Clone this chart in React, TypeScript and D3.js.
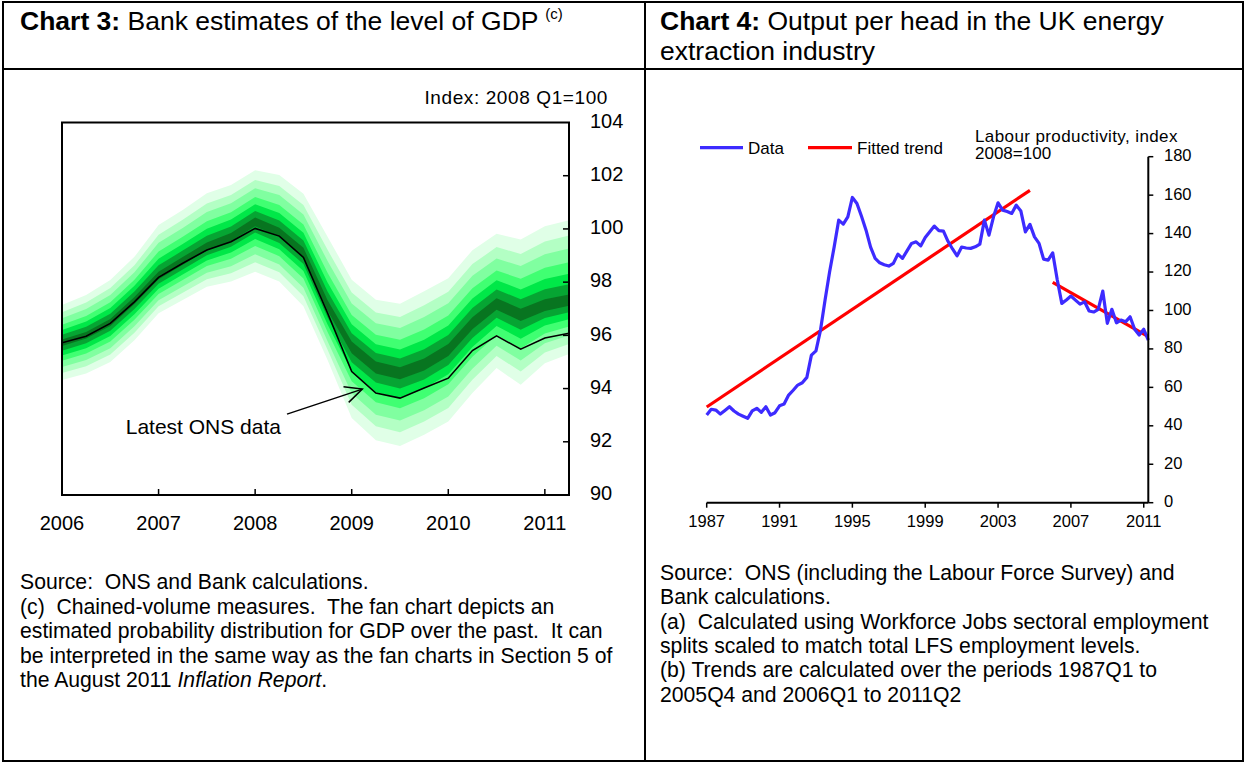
import React from 'react';
import * as d3 from 'd3';

const FONT = "'Liberation Sans', Arial, Helvetica, sans-serif";

// ---------- Chart 3 data (quarterly, 2006 Q1 – 2011 Q2) ----------
const gdpQuarters = [
  '2006 Q1', '2006 Q2', '2006 Q3', '2006 Q4',
  '2007 Q1', '2007 Q2', '2007 Q3', '2007 Q4',
  '2008 Q1', '2008 Q2', '2008 Q3', '2008 Q4',
  '2009 Q1', '2009 Q2', '2009 Q3', '2009 Q4',
  '2010 Q1', '2010 Q2', '2010 Q3', '2010 Q4',
  '2011 Q1', '2011 Q2',
];
const onsLatest = [95.72, 95.97, 96.45, 97.26, 98.18, 98.71, 99.21, 99.52, 100.02, 99.73, 98.93, 96.84,
  94.64, 93.83, 93.64, 94.02, 94.39, 95.43, 95.98, 95.48, 95.9, 96.08];
const fanMode = [95.72, 96.0, 96.48, 97.3, 98.23, 98.78, 99.32, 99.68, 100.26, 99.86, 99.1, 97.1,
  95.55, 94.8, 94.58, 94.9, 95.45, 96.45, 97.17, 96.76, 97.1, 97.28];
const fanTop = [97.14, 97.52, 98.08, 98.95, 100.15, 100.71, 101.34, 101.65, 102.21, 102.03, 101.32, 99.71,
  98.09, 97.34, 97.19, 97.66, 98.15, 99.2, 99.82, 99.6, 100.1, 100.33];
const fanBottom = [94.32, 94.57, 95.0, 95.82, 96.83, 97.33, 97.83, 98.02, 98.39, 98.02, 97.09, 95.07,
  92.89, 92.06, 91.84, 92.26, 92.76, 93.83, 94.77, 94.14, 94.95, 95.3];
const fanBandFractions = [1.0, 0.81, 0.65, 0.48, 0.34, 0.21, 0.085];
const fanColors = ['#e0ffe7', '#b3ffc4', '#80ffa0', '#40ff72', '#00e848', '#06a533', '#087520'];
const gdpYearTicks = [2006, 2007, 2008, 2009, 2010, 2011];
const gdpValueTicks = [90, 92, 94, 96, 98, 100, 102, 104];

// ---------- Chart 4 data (quarterly, 1987 Q1 – 2011 Q2) ----------
const prodStartYear = 1987;
const prodData = [
  45.6, 48.6, 48.2, 46.1, 48.0, 49.9, 47.7, 46.1, 45.0, 43.9,
  47.8, 49.1, 47.0, 49.9, 45.6, 46.8, 50.4, 51.3, 56.0, 58.5,
  61.2, 62.4, 65.2, 76.8, 79.0, 89.8, 105.4, 120.1, 133.1, 147.0,
  144.9, 148.7, 158.8, 155.7, 149.0, 141.8, 133.0, 127.1, 124.8, 123.8,
  123.1, 124.5, 129.3, 127.1, 131.0, 134.9, 135.7, 133.6, 138.0, 141.0,
  143.9, 141.5, 141.3, 136.0, 132.0, 128.4, 133.0, 132.5, 132.3, 133.1,
  134.5, 147.0, 139.2, 148.7, 156.0, 152.2, 151.5, 150.5, 154.8, 151.8,
  140.9, 144.8, 138.3, 134.9, 126.7, 126.2, 130.0, 116.0, 103.7, 105.5,
  107.5, 105.4, 103.3, 104.5, 99.7, 99.2, 100.6, 110.1, 93.3, 100.6,
  93.6, 95.0, 94.1, 96.7, 90.2, 87.2, 90.2, 84.6,
];
const trendEarly = [{ q: 0, v: 49.8 }, { q: 71, v: 162.5 }];
const trendLate = [{ q: 76, v: 114.6 }, { q: 97, v: 86.4 }];
const prodYearTicks = [1987, 1991, 1995, 1999, 2003, 2007, 2011];
const prodValueTicks = [0, 20, 40, 60, 80, 100, 120, 140, 160, 180];

// annotation (data coordinates of chart 3)
const annotation = { text: 'Latest ONS data', textAt: [2006.66, 92.3], from: [2008.33, 93.04], to: [2009.11, 93.98] };

const quarterToYear = (label: string) => {
  const [y, q] = label.split(' Q');
  return +y + (+q - 1) / 4;
};

const PRE = { whiteSpace: 'pre' as const };

function Chart3() {
  const x = d3.scaleLinear().domain([2006, 2011.25]).range([62, 569]);
  const y = d3.scaleLinear().domain([90, 104]).range([495, 122.5]);
  const t = gdpQuarters.map(quarterToYear);

  const bands = fanBandFractions.map((f, k) => {
    const area = d3.area<number>()
      .x((_, i) => x(t[i]))
      .y0((_, i) => y(fanMode[i] - f * (fanMode[i] - fanBottom[i])))
      .y1((_, i) => y(fanMode[i] + f * (fanTop[i] - fanMode[i])));
    return <path key={k} d={area(fanMode) || ''} fill={fanColors[k]} stroke="none" />;
  });

  const line = d3.line<number>().x((_, i) => x(t[i])).y(d => y(d));

  const [ax, ay] = [x(annotation.to[0]), y(annotation.to[1])];
  const [bx, by] = [x(annotation.from[0]), y(annotation.from[1])];
  const ang = Math.atan2(by - ay, bx - ax);
  const headLen = 19;
  const spread = 0.45;
  const h1 = [ax + headLen * Math.cos(ang + spread), ay + headLen * Math.sin(ang + spread)];
  const h2 = [ax + headLen * Math.cos(ang - spread), ay + headLen * Math.sin(ang - spread)];

  const [x0, x1] = x.range();
  const [yb, yt] = y.range();

  return (
    <g fontFamily={FONT}>
      <defs>
        <clipPath id="c3clip">
          <rect x={x0} y={yt} width={x1 - x0} height={yb - yt} />
        </clipPath>
      </defs>
      <g clipPath="url(#c3clip)">
        {bands}
        <path d={line(onsLatest) || ''} fill="none" stroke="#000" strokeWidth={1.6} />
      </g>
      <rect x={x0} y={yt} width={x1 - x0} height={yb - yt} fill="none" stroke="#000" strokeWidth={2} />
      {gdpYearTicks.map(v => (
        <g key={v}>
          {v > 2006 && <line x1={x(v)} x2={x(v)} y1={yb} y2={yb - 6} stroke="#000" strokeWidth={1.5} />}
          <text x={x(v)} y={530} fontSize={20} textAnchor="middle">{v}</text>
        </g>
      ))}
      {gdpValueTicks.map(v => (
        <g key={v}>
          {v > 90 && v < 104 && <line x1={x1} x2={x1 - 6} y1={y(v)} y2={y(v)} stroke="#000" strokeWidth={1.5} />}
          <text x={590} y={y(v)} fontSize={20} dominantBaseline="middle">{v}</text>
        </g>
      ))}
      <text x={608} y={104} fontSize={19} letterSpacing={0.6} textAnchor="end">Index: 2008 Q1=100</text>
      <line x1={bx} y1={by} x2={ax} y2={ay} stroke="#000" strokeWidth={1.5} />
      <polyline points={`${h1[0]},${h1[1]} ${ax},${ay} ${h2[0]},${h2[1]}`} fill="none" stroke="#000" strokeWidth={1.5} />
      <text x={x(annotation.textAt[0])} y={y(annotation.textAt[1])} fontSize={21}>{annotation.text}</text>
    </g>
  );
}

function Chart4() {
  const x = d3.scaleLinear().domain([1987, 2011.25]).range([706.7, 1148.3]);
  const y = d3.scaleLinear().domain([0, 180]).range([502.7, 156.7]);
  const qx = (q: number) => x(prodStartYear + q / 4);
  const dataLine = d3.line<number>().x((_, i) => qx(i)).y(d => y(d));
  const trendLine = d3.line<{ q: number; v: number }>().x(d => qx(d.q)).y(d => y(d.v));
  const [x0, x1] = x.range();
  const [yb, yt] = y.range();
  const blue = '#3d2bff';
  const red = '#ff0000';
  return (
    <g fontFamily={FONT}>
      <path d={trendLine(trendEarly) || ''} fill="none" stroke={red} strokeWidth={3.2} />
      <path d={trendLine(trendLate) || ''} fill="none" stroke={red} strokeWidth={3.2} />
      <path d={dataLine(prodData) || ''} fill="none" stroke={blue} strokeWidth={3.2} strokeLinejoin="round" />
      <line x1={x0} x2={x1} y1={yb} y2={yb} stroke="#000" strokeWidth={2} />
      <line x1={x1} x2={x1} y1={yt} y2={yb} stroke="#000" strokeWidth={2} />
      {prodYearTicks.map(v => (
        <g key={v}>
          <line x1={x(v)} x2={x(v)} y1={yb} y2={yb + 5} stroke="#000" strokeWidth={1.5} />
          <text x={x(v)} y={527} fontSize={16.5} textAnchor="middle">{v}</text>
        </g>
      ))}
      {prodValueTicks.map(v => (
        <g key={v}>
          <line x1={x1} x2={x1 + 5} y1={y(v)} y2={y(v)} stroke="#000" strokeWidth={1.5} />
          <text x={1164} y={y(v)} fontSize={16.5} dominantBaseline="middle">{v}</text>
        </g>
      ))}
      <line x1={700} x2={743} y1={147.7} y2={147.7} stroke={blue} strokeWidth={3.2} />
      <text x={748} y={153.5} fontSize={17}>Data</text>
      <line x1={808} x2={852} y1={147.7} y2={147.7} stroke={red} strokeWidth={3.2} />
      <text x={857} y={153.5} fontSize={17}>Fitted trend</text>
      <text x={975} y={142} fontSize={17} letterSpacing={0.4}>Labour productivity, index</text>
      <text x={975} y={159} fontSize={17}>2008=100</text>
    </g>
  );
}

const notes3 = [
  'Source:  ONS and Bank calculations.',
  '(c)  Chained-volume measures.  The fan chart depicts an',
  'estimated probability distribution for GDP over the past.  It can',
  'be interpreted in the same way as the fan charts in Section 5 of',
];
const notes4 = [
  'Source:  ONS (including the Labour Force Survey) and',
  'Bank calculations.',
  '(a)  Calculated using Workforce Jobs sectoral employment',
  'splits scaled to match total LFS employment levels.',
  '(b) Trends are calculated over the periods 1987Q1 to',
  '2005Q4 and 2006Q1 to 2011Q2',
];

export default function App() {
  return (
    <svg width={1247} height={764} style={{ position: 'absolute', left: 0, top: 0, background: '#fff' }}
      fontFamily={FONT}>
      <rect x={0} y={0} width={1247} height={764} fill="#fff" />
      {/* frame */}
      <rect x={3} y={2} width={1240} height={759} fill="none" stroke="#000" strokeWidth={2} />
      <line x1={645} x2={645} y1={2} y2={761} stroke="#000" strokeWidth={2} />
      <line x1={3} x2={1243} y1={69} y2={69} stroke="#000" strokeWidth={2} />
      {/* titles */}
      <text x={20} y={30} fontSize={26.5} style={PRE}>
        <tspan fontWeight="bold">Chart 3:</tspan>
        <tspan> Bank estimates of the level of GDP </tspan>
        <tspan fontSize={15} dy={-11}>(c)</tspan>
      </text>
      <text x={660} y={30} fontSize={26.5} style={PRE}>
        <tspan fontWeight="bold">Chart 4:</tspan>
        <tspan> Output per head in the UK energy</tspan>
      </text>
      <text x={660} y={60} fontSize={26.5}>extraction industry</text>

      <Chart3 />
      <Chart4 />

      {notes3.map((s, i) => (
        <text key={i} x={20} y={589 + i * 24.6} fontSize={21.2} style={PRE}>{s}</text>
      ))}
      <text x={20} y={589 + 4 * 24.6} fontSize={21.2} style={PRE}>
        the August 2011 <tspan fontStyle="italic">Inflation Report</tspan>.
      </text>
      {notes4.map((s, i) => (
        <text key={i} x={660} y={580 + i * 24.3} fontSize={21.2} style={PRE}>{s}</text>
      ))}
    </svg>
  );
}
